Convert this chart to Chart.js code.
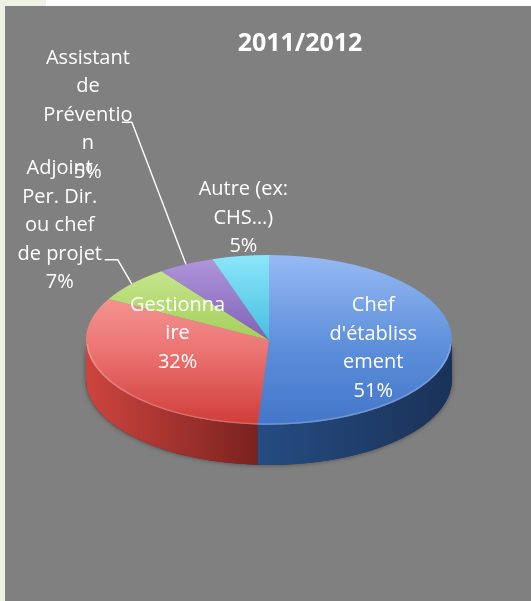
<!DOCTYPE html>
<html>
<head>
<meta charset="utf-8">
<script src="https://cdn.jsdelivr.net/npm/chart.js@4/dist/chart.umd.min.js"></script>
<style>
  html, body { margin: 0; padding: 0; background: #fff; }
  body { width: 531px; height: 601px; position: relative; overflow: hidden; }
  .strip { position: absolute; left: 0; top: 0; width: 5px; height: 601px; background: #eef2e3; }
  .corner { position: absolute; left: 0; top: 0; width: 46px; height: 6px; background: #eef2e3; }
  .panel { position: absolute; left: 5px; top: 6px; width: 526px; height: 595px; background: #808080; }
</style>
</head>
<body>
<div class="strip"></div>
<div class="corner"></div>
<div class="panel"><canvas id="pie" width="526" height="595"></canvas></div>
<script>
var titleText = "2011/2012"

var categories = ["Chef d'établissement", "Gestionnaire", "Adjoint Per. Dir. ou chef de projet", "Assistant de Prévention", "Autre (ex: CHS…)"]
var shares = [51, 32, 7, 5, 5]
// label text as it wraps on the chart
var labelLines = [
    ["Chef", "d'établiss", "ement"],
    ["Gestionna", "ire"],
    ["Adjoint", "Per. Dir.", "ou chef", "de projet"],
    ["Assistant", "de", "Préventio", "n"],
    ["Autre (ex:", "CHS…)"],
]

// colours: top face gradient [light, dark], side gradient [left, right]
var topColors = [
    ["rgb(150,186,244)", "rgb(92,142,218)", "rgb(66,118,200)"],
    ["rgb(250,172,170)", "rgb(236,118,116)", "rgb(208,60,56)"],
    ["rgb(206,234,150)", "rgb(160,204,86)", "rgb(140,188,66)"],
    ["rgb(178,152,220)", "rgb(122,92,180)", "rgb(100,72,160)"],
    ["rgb(140,230,250)", "rgb(64,186,222)", "rgb(40,160,200)"],
]
var sideColors = [
    ["rgb(38,76,130)", "rgb(26,50,88)"],
    ["rgb(206,68,62)", "rgb(122,34,31)"],
    ["rgb(120,160,50)", "rgb(90,130,35)"],
    ["rgb(90,62,140)", "rgb(70,45,115)"],
    ["rgb(35,140,180)", "rgb(25,110,150)"],
]

var tilt = 85 / 183
var depthPx = 40
var lineHeight = 28.5

// label placement: radius fraction along the slice middle, then a shift
var labelRadius = [0.57, 0.57, 1, 1, 1]
var labelShift = [[0, 7], [0, -30], [-72, -58], [-98, -149], [3, -38]]
var leaderPoints = [null, null, [[-14, -24], [-27, -24]], [[-54, -142], [-64, -142]], null]

function faceGradient(chart, i) {
    var area = chart.chartArea
    if (!area) return topColors[i][1]
    var cy = (area.top + area.bottom) / 2
    var r = Math.min(area.right - area.left, area.bottom - area.top) / 2
    var g = chart.ctx.createLinearGradient(0, cy - r, 0, cy + r)
    g.addColorStop(0, topColors[i][0])
    g.addColorStop(0.55, topColors[i][1])
    g.addColorStop(1, topColors[i][2])
    return g
}

const pie3d = {
    id: 'pie3d',
    beforeDatasetsDraw(chart) {
        const ctx = chart.ctx
        const arcs = chart.getDatasetMeta(0).data
        const cx = arcs[0].x, cy = arcs[0].y, r = arcs[0].outerRadius
        ctx.save()
        ctx.translate(cx, cy)
        ctx.scale(1, tilt)
        ctx.translate(-cx, -cy)
        const depth = depthPx / tilt
        // soft shadow under the disc
        ctx.save()
        ctx.shadowColor = "rgba(0,0,0,0.45)"
        ctx.shadowBlur = 5
        ctx.beginPath()
        ctx.arc(cx, cy + depth, r, 0, Math.PI)
        ctx.lineTo(cx - r, cy)
        ctx.arc(cx, cy, r, Math.PI, 0, true)
        ctx.closePath()
        ctx.fillStyle = "#333"
        ctx.fill()
        ctx.restore()
        // the front wall, one piece per slice
        arcs.forEach((arc, i) => {
            const s = Math.max(arc.startAngle, 0)
            const e = Math.min(arc.endAngle, Math.PI)
            if (s >= e) return
            const xl = cx + Math.cos(e) * r
            const xr = cx + Math.cos(s) * r
            const g = ctx.createLinearGradient(xl, 0, xr, 0)
            g.addColorStop(0, sideColors[i][0])
            g.addColorStop(1, sideColors[i][1])
            ctx.beginPath()
            ctx.arc(cx, cy, r, s, e)
            ctx.arc(cx, cy + depth, r, e, s, true)
            ctx.closePath()
            ctx.fillStyle = g
            ctx.fill()
        })
    },
    afterDatasetsDraw(chart) {
        const ctx = chart.ctx
        ctx.restore()
        const arc0 = chart.getDatasetMeta(0).data[0]
        // faint rim on the front edge of the top face
        ctx.save()
        ctx.beginPath()
        ctx.ellipse(arc0.x, arc0.y, arc0.outerRadius - 1, arc0.outerRadius * tilt - 1, 0, 0.05, Math.PI - 0.05)
        ctx.strokeStyle = "rgba(255,255,255,0.22)"
        ctx.lineWidth = 1.5
        ctx.stroke()
        ctx.restore()
    },
    afterDraw(chart) {
        const ctx = chart.ctx
        const arcs = chart.getDatasetMeta(0).data
        ctx.save()
        ctx.fillStyle = "#fff"
        ctx.textAlign = "center"
        ctx.textBaseline = "middle"
        ctx.font = "bold 25px 'Open Sans'"
        ctx.fillText(titleText, chart.width / 2 + 32, 38)

        ctx.font = "20px 'Open Sans'"
        ctx.strokeStyle = "#fff"
        ctx.lineWidth = 1.4
        arcs.forEach((arc, i) => {
            const mid = (arc.startAngle + arc.endAngle) / 2
            const f = labelRadius[i]
            const ax = arc.x + Math.cos(mid) * arc.outerRadius * f
            const ay = arc.y + Math.sin(mid) * arc.outerRadius * f * tilt
            if (leaderPoints[i]) {
                ctx.beginPath()
                ctx.moveTo(ax, ay)
                leaderPoints[i].forEach(p => ctx.lineTo(ax + p[0], ay + p[1]))
                ctx.stroke()
            }
            const lines = labelLines[i].concat([shares[i] + "%"])
            const lx = ax + labelShift[i][0]
            const ly = ay + labelShift[i][1] - (lines.length - 1) * lineHeight / 2
            lines.forEach((t, j) => ctx.fillText(t, lx, ly + j * lineHeight))
        })
        ctx.restore()
    }
}

const chartPie = new Chart(document.getElementById('pie'), {
    type: 'pie',
    data: {
        labels: categories,
        datasets: [{
            data: shares,
            borderWidth: 0,
            backgroundColor: (c) => faceGradient(c.chart, c.dataIndex),
        }]
    },
    options: {
        responsive: false,
        animation: false,
        events: [],
        layout: { padding: { left: 81, right: 79, top: 151, bottom: 78 } },
        plugins: {
            legend: { display: false },
            tooltip: { enabled: false },
            title: { display: false },
        }
    },
    plugins: [pie3d]
})
</script>
</body>
</html>
